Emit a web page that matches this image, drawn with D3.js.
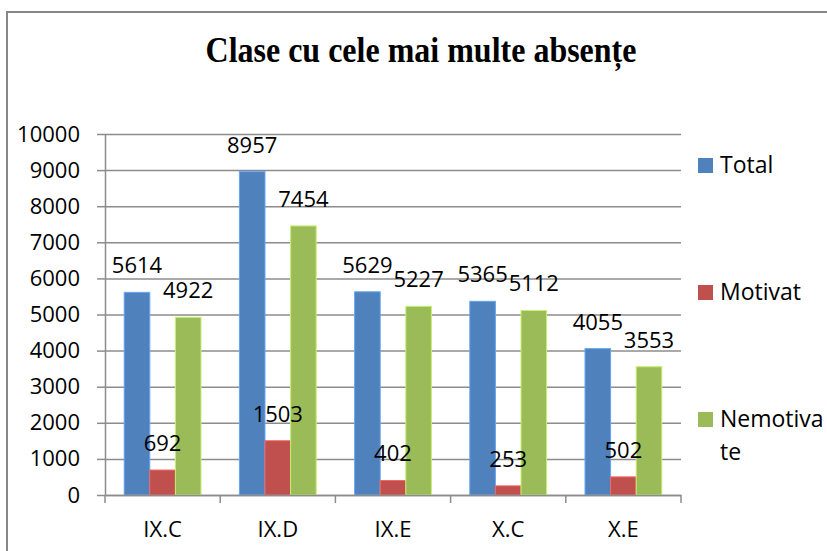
<!DOCTYPE html>
<html>
<head>
<meta charset="utf-8">
<script src="https://cdn.jsdelivr.net/npm/d3@7"></script>
<style>
  body { margin: 0; background: #fff; }
  text { font-family: "Open Sans", Lato, sans-serif; }
</style>
</head>
<body>
<div id="chart"></div>
<script>
var categories = ["IX.C", "IX.D", "IX.E", "X.C", "X.E"];
var seriesNames = ["Total", "Motivat", "Nemotivate"];
var total = [5614, 8957, 5629, 5365, 4055];
var motivat = [692, 1503, 402, 253, 502];
var nemotivate = [4922, 7454, 5227, 5112, 3553];
var yTicks = [0, 1000, 2000, 3000, 4000, 5000, 6000, 7000, 8000, 9000, 10000];

var colors = ["#4F81BD", "#C0504D", "#9BBB59"];
var series = [total, motivat, nemotivate];

var svg = d3.select("#chart").append("svg")
    .attr("width", 827).attr("height", 551);

// outer frame of the chart area (right/bottom edges fall outside the picture)
svg.append("rect")
    .attr("x", 7).attr("y", 12)
    .attr("width", 900).attr("height", 600)
    .attr("fill", "#fff")
    .attr("stroke", "#878787").attr("stroke-width", 2);

svg.append("text")
    .attr("transform", "translate(421,62) scale(1,1.12)")
    .attr("text-anchor", "middle")
    .style("font-family", "'Liberation Serif', 'Times New Roman', serif")
    .style("font-weight", "bold")
    .style("font-size", "32px")
    .text("Clase cu cele mai multe absențe");

var plotL = 105, plotR = 681, plotT = 134, plotB = 495;

var y = d3.scaleLinear().domain([0, 10000]).range([plotB, plotT]);
var x0 = d3.scaleBand().domain(categories).range([plotL, plotR])
    .paddingInner(1 / 3).paddingOuter(1 / 6);
var x1 = d3.scaleBand().domain(seriesNames).range([0, x0.bandwidth()]);

// gridlines
var grid = svg.append("g").attr("transform", "translate(" + plotL + ",0)")
    .call(d3.axisLeft(y).tickValues(yTicks).tickSize(-(plotR - plotL)).tickFormat(""));
grid.select(".domain").remove();
grid.selectAll("line").attr("stroke", "#8c8c8c").attr("stroke-width", 1.5);

// y axis
var yAxis = svg.append("g").attr("transform", "translate(" + plotL + ",0)")
    .call(d3.axisLeft(y).tickValues(yTicks).tickFormat(d3.format("d"))
        .tickSize(8).tickPadding(17).tickSizeOuter(0));
yAxis.select(".domain").attr("stroke", "#8c8c8c").attr("stroke-width", 1.5);
yAxis.selectAll("line").attr("stroke", "#8c8c8c").attr("stroke-width", 1.5);
yAxis.selectAll("text").attr("fill", "#000")
    .style("font-family", "'Open Sans', sans-serif").style("font-size", "22px");

// bars
var groups = svg.selectAll(".grp").data(categories).enter().append("g")
    .attr("transform", function(d) { return "translate(" + x0(d) + ",0)"; });

seriesNames.forEach(function(name, si) {
    groups.append("rect")
        .attr("x", x1(name))
        .attr("y", function(d, i) { return y(series[si][i]); })
        .attr("width", x1.bandwidth())
        .attr("height", function(d, i) { return plotB - y(series[si][i]); })
        .attr("fill", colors[si])
        .attr("stroke", d3.color(colors[si]).brighter(0.7))
        .attr("stroke-width", 1);
});

// x axis
var xAxis = svg.append("g").attr("transform", "translate(0," + plotB + ")")
    .call(d3.axisBottom(x0).tickSize(0).tickPadding(26).tickSizeOuter(0));
xAxis.select(".domain").attr("stroke", "#8c8c8c").attr("stroke-width", 1.5);
xAxis.selectAll("text").attr("fill", "#000")
    .style("font-family", "'Open Sans', sans-serif").style("font-size", "22px");

var bounds = categories.map(function(c) { return x0(c) - x0.step() * x0.paddingInner() / 2; });
bounds.push(plotR);
svg.append("g").selectAll("line").data(bounds).enter().append("line")
    .attr("x1", function(d) { return d; }).attr("x2", function(d) { return d; })
    .attr("y1", plotB).attr("y2", plotB + 8)
    .attr("stroke", "#8c8c8c").attr("stroke-width", 1.5);

// value labels
seriesNames.forEach(function(name, si) {
    groups.append("text")
        .attr("x", x1(name) + x1.bandwidth() / 2)
        .attr("y", function(d, i) { return y(series[si][i]) - 19; })
        .attr("text-anchor", "middle")
        .style("font-size", "22px")
        .text(function(d, i) { return series[si][i]; });
});

// legend
var legendRows = [
    { lines: ["Total"], y: 173 },
    { lines: ["Motivat"], y: 300 },
    { lines: ["Nemotiva", "te"], y: 427 }
];
var lg = svg.selectAll(".lg").data(legendRows).enter().append("g");
lg.append("rect")
    .attr("x", 698).attr("y", function(d) { return d.y - 15; })
    .attr("width", 15).attr("height", 15)
    .attr("fill", function(d, i) { return colors[i]; });
lg.append("text")
    .attr("x", 720).attr("y", function(d) { return d.y; })
    .style("font-size", "23px")
    .selectAll("tspan").data(function(d) { return d.lines; }).enter().append("tspan")
    .attr("x", 720).attr("dy", function(d, i) { return i ? 33 : 0; })
    .text(function(d) { return d; });
</script>
</body>
</html>
